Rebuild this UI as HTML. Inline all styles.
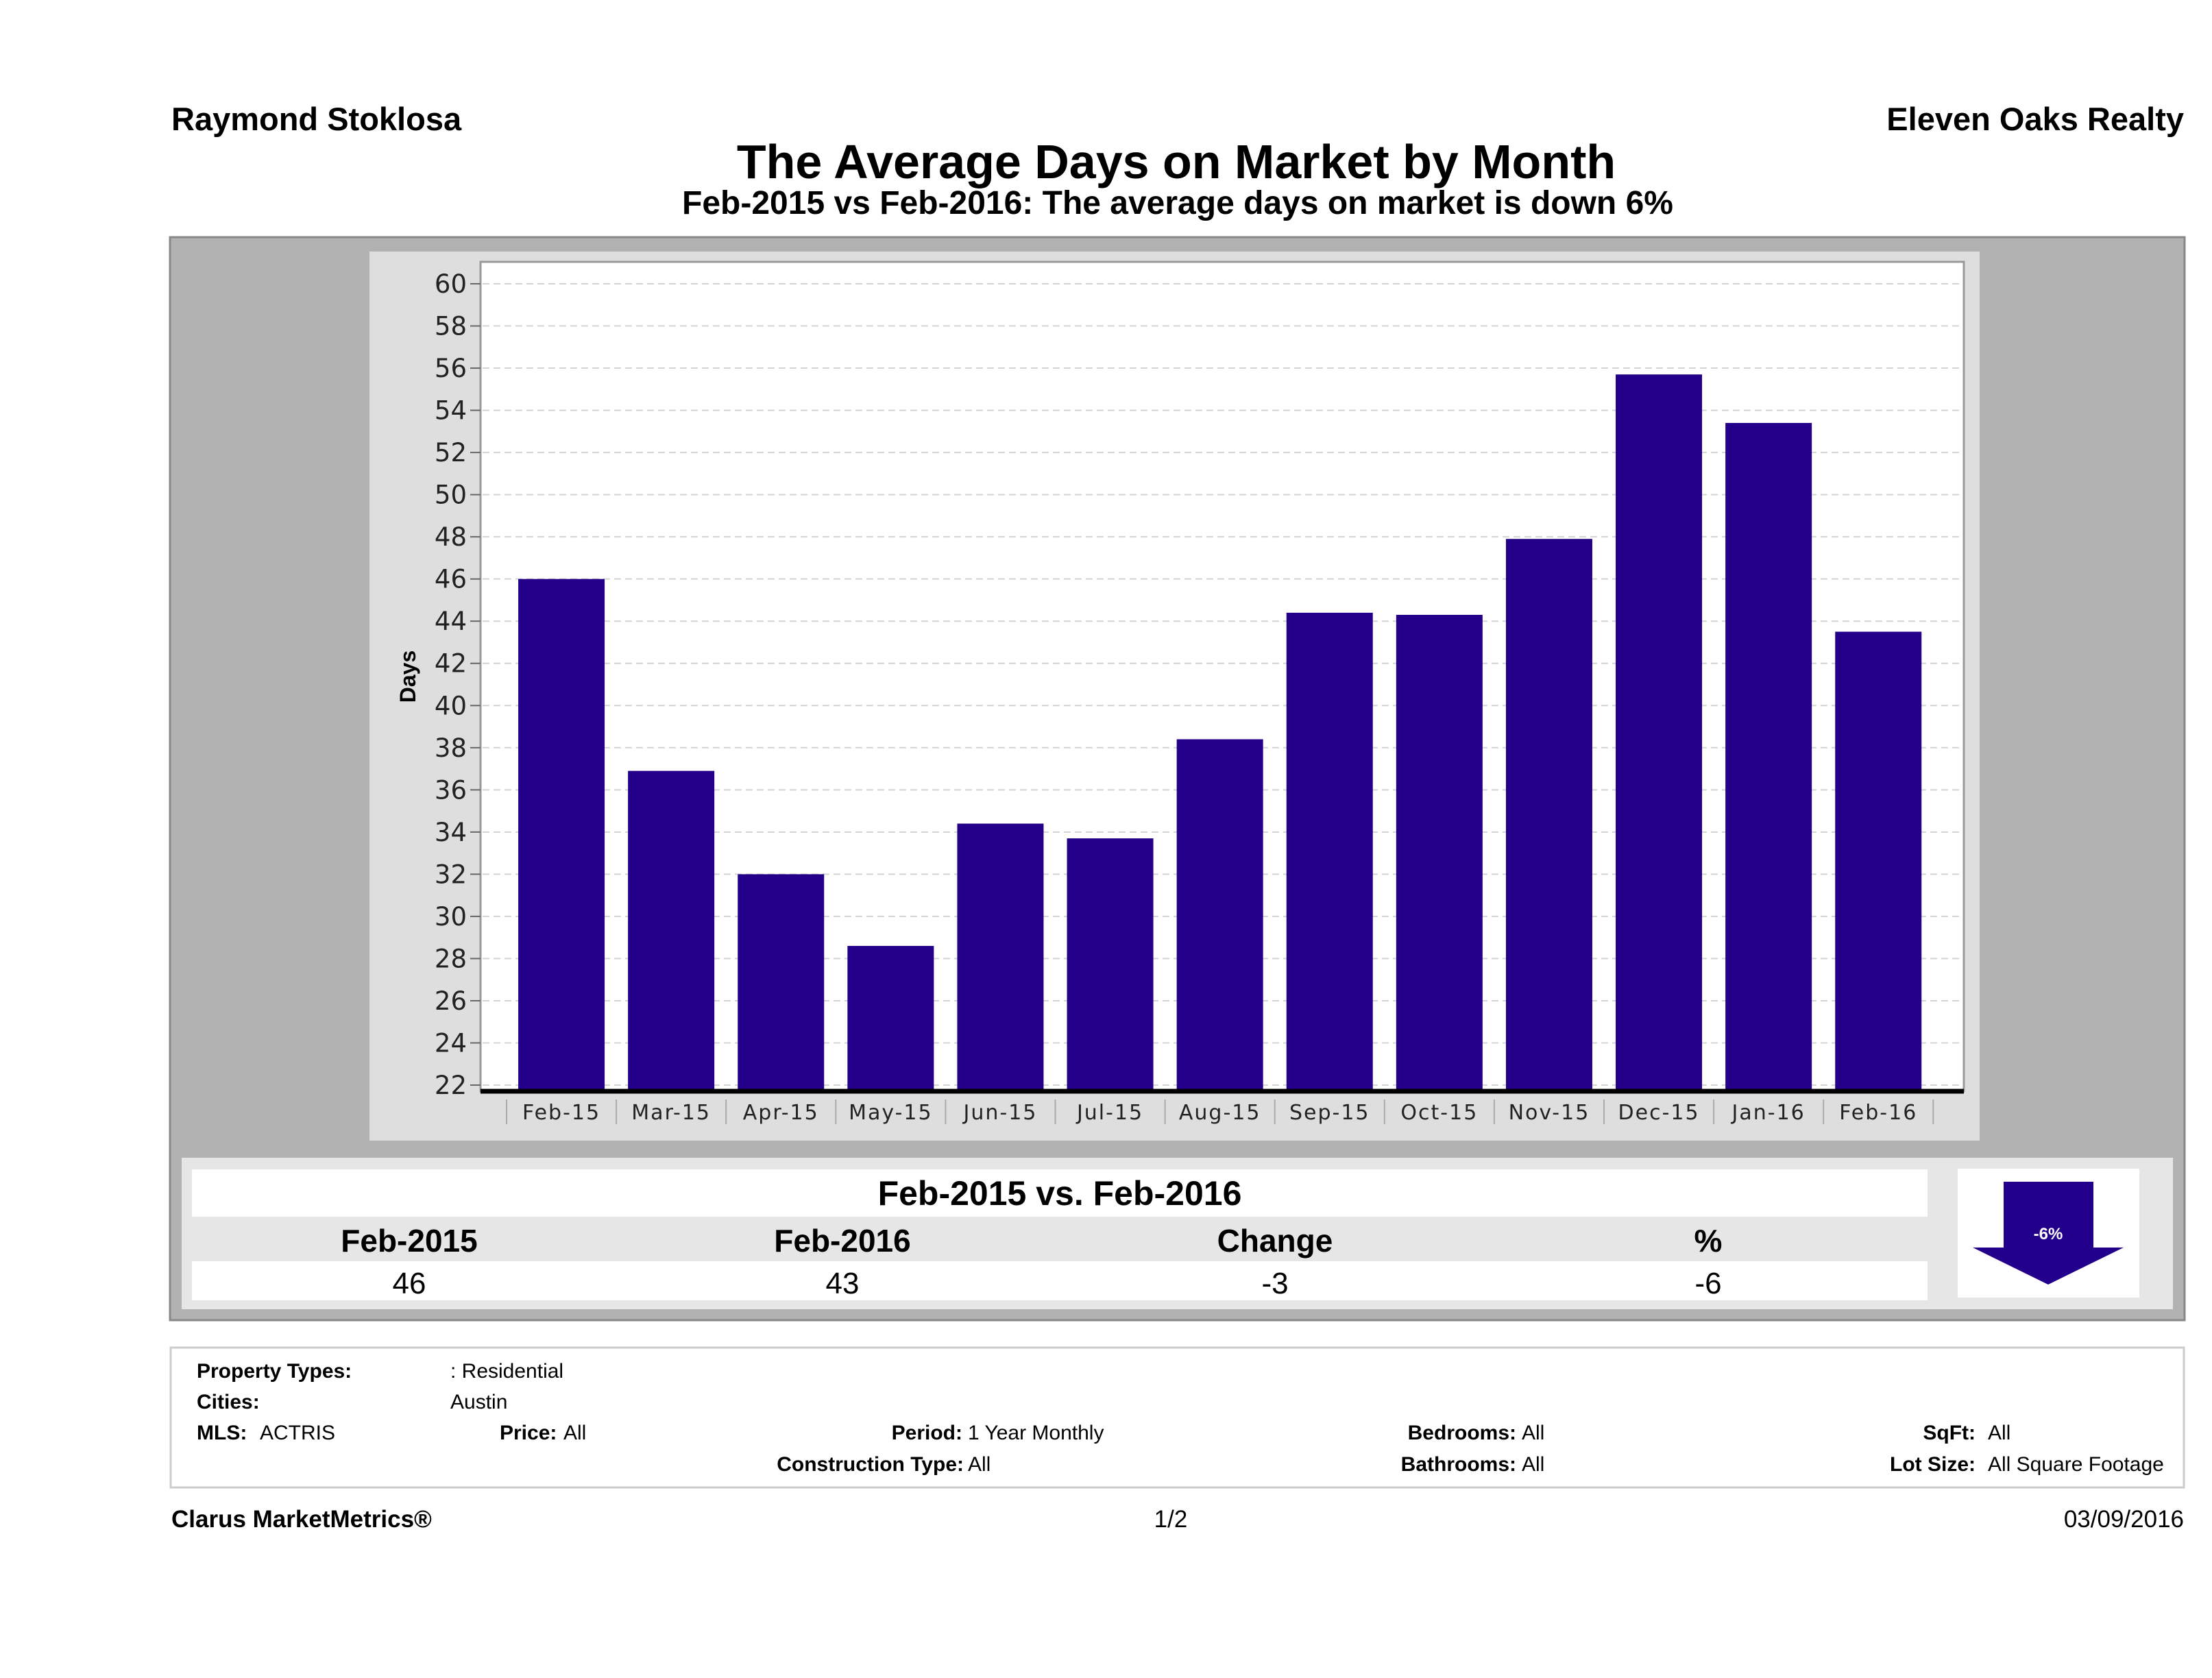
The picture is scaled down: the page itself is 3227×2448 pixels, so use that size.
<!DOCTYPE html>
<html><head><meta charset="utf-8"><style>
html,body{margin:0;padding:0;background:#fff}
svg{display:block}
text{font-family:"Liberation Sans Narrow","Liberation Sans",sans-serif;fill:#000}
.tk{font-family:"DejaVu Sans","Liberation Sans",sans-serif;font-size:37px;fill:#222}
.xl{font-family:"DejaVu Sans","Liberation Sans",sans-serif;font-size:30px;fill:#222;letter-spacing:2px}
.b{font-weight:bold}
.inf{font-size:30px}
</style></head><body>
<svg id="page" width="3227" height="2448" viewBox="0 0 3227 2448" xmlns="http://www.w3.org/2000/svg">
<text x="250" y="190" class="b" font-size="47">Raymond Stoklosa</text>
<text x="3186" y="190" class="b" font-size="47" text-anchor="end">Eleven Oaks Realty</text>
<text x="1716" y="260" class="b" font-size="70" text-anchor="middle">The Average Days on Market by Month</text>
<text x="1718" y="312" class="b" font-size="48" text-anchor="middle">Feb-2015 vs Feb-2016: The average days on market is down 6%</text>

<rect x="248" y="346" width="2939" height="1580" fill="#b2b2b2" stroke="#888" stroke-width="3"/>
<rect x="539" y="367" width="2349" height="1297" fill="#dedede"/>
<rect x="701" y="382" width="2164" height="1210" fill="#fff" stroke="#999" stroke-width="3"/>
<g id="grid"></g>
<g id="bars"></g>
<g id="axes"></g>
<text transform="translate(606,987) rotate(-90)" class="b" font-size="32" font-family="Liberation Sans" text-anchor="middle">Days</text>

<rect x="265" y="1689" width="2905" height="221" fill="#e6e6e6"/>
<rect x="280" y="1706" width="2532" height="69" fill="#fff"/>
<rect x="280" y="1840" width="2532" height="57" fill="#fff"/>
<text x="1546" y="1758" class="b" font-size="50" text-anchor="middle">Feb-2015 vs. Feb-2016</text>
<text x="597" y="1826" class="b" font-size="46" text-anchor="middle">Feb-2015</text>
<text x="1229" y="1826" class="b" font-size="46" text-anchor="middle">Feb-2016</text>
<text x="1860" y="1826" class="b" font-size="46" text-anchor="middle">Change</text>
<text x="2492" y="1826" class="b" font-size="46" text-anchor="middle">%</text>
<text x="597" y="1887" font-size="44" text-anchor="middle">46</text>
<text x="1229" y="1887" font-size="44" text-anchor="middle">43</text>
<text x="1860" y="1887" font-size="44" text-anchor="middle">-3</text>
<text x="2492" y="1887" font-size="44" text-anchor="middle">-6</text>
<rect x="2856" y="1705" width="265" height="188" fill="#fff"/>
<polygon points="2923,1724 3054,1724 3054,1820 3098,1820 2988,1874 2878,1820 2923,1820" fill="#22008c"/>
<text x="2988" y="1808" class="b" font-size="24" style="fill:#fff" text-anchor="middle">-6%</text>

<rect x="249" y="1966" width="2937" height="204" fill="#fff" stroke="#ccc" stroke-width="3"/>
<g class="inf">
<text x="287" y="2010" class="b inf">Property Types:</text>
<text x="657" y="2010" class="inf">: Residential</text>
<text x="287" y="2055" class="b inf">Cities:</text>
<text x="657" y="2055" class="inf">Austin</text>
<text x="287" y="2100" class="b inf">MLS:</text>
<text x="379" y="2100" class="inf">ACTRIS</text>
<text x="729" y="2100" class="b inf">Price:</text>
<text x="822" y="2100" class="inf">All</text>
<text x="1404" y="2100" class="b inf" text-anchor="end">Period:</text>
<text x="1412" y="2100" class="inf">1 Year Monthly</text>
<text x="1406" y="2146" class="b inf" text-anchor="end">Construction Type:</text>
<text x="1412" y="2146" class="inf">All</text>
<text x="2212" y="2100" class="b inf" text-anchor="end">Bedrooms:</text>
<text x="2220" y="2100" class="inf">All</text>
<text x="2212" y="2146" class="b inf" text-anchor="end">Bathrooms:</text>
<text x="2220" y="2146" class="inf">All</text>
<text x="2882" y="2100" class="b inf" text-anchor="end">SqFt:</text>
<text x="2900" y="2100" class="inf">All</text>
<text x="2882" y="2146" class="b inf" text-anchor="end">Lot Size:</text>
<text x="2900" y="2146" class="inf">All Square Footage</text>
</g>
<text x="250" y="2228" class="b" font-size="35">Clarus MarketMetrics®</text>
<text x="1708" y="2228" font-size="35" text-anchor="middle">1/2</text>
<text x="3186" y="2228" font-size="35" text-anchor="end">03/09/2016</text>
</svg>
<script>
const categories = ["Feb-15","Mar-15","Apr-15","May-15","Jun-15","Jul-15","Aug-15","Sep-15","Oct-15","Nov-15","Dec-15","Jan-16","Feb-16"];
const values = [46, 36.9, 32, 28.6, 34.4, 33.7, 38.4, 44.4, 44.3, 47.9, 55.7, 53.4, 43.5];
const yTicks = [22,24,26,28,30,32,34,36,38,40,42,44,46,48,50,52,54,56,58,60];

const NS = "http://www.w3.org/2000/svg";
const yMin = 22, yMax = 60, yTop = 414, yBot = 1583;
function yScale(v){ return yBot - (v - yMin) / (yMax - yMin) * (yBot - yTop); }
const xStart = 739, step = 160.1, barW = 126;
function xBand(i){ return xStart + i * step; }
function mk(tag, attrs, parent){ const e = document.createElementNS(NS, tag); for (const k in attrs) e.setAttribute(k, attrs[k]); parent.appendChild(e); return e; }

const grid = document.getElementById('grid');
const bars = document.getElementById('bars');
const axes = document.getElementById('axes');

yTicks.forEach(t => {
  const y = yScale(t);
  const g = mk('line', {x1:704, x2:2862, y1:y, y2:y, stroke:'#d4d4d4', 'stroke-width':2, 'stroke-dasharray':'10,6'}, grid);
  
  
  const tk = mk('line', {x1:686, x2:701, y1:y, y2:y, stroke:'#666', 'stroke-width':2}, axes);
  
  
  const lb = mk('text', {x:681, y:y + 13, 'text-anchor':'end', class:'tk'}, axes);
  lb.textContent = t;
  
  
});

values.forEach((v, i) => {
  const x = xBand(i) + (step - barW) / 2;
  const y = yScale(v);
  const r = mk('rect', {x:x, y:y, width:barW, height:1592 - y, fill:'#24008a'}, bars);
  
  
});

const base = mk('line', {x1:701, x2:2865, y1:1592, y2:1592, stroke:'#000', 'stroke-width':7}, axes);



for (let i = 0; i <= categories.length; i++) {
  const sx = xBand(i);
  const s = mk('line', {x1:sx, x2:sx, y1:1604, y2:1640, stroke:'#aaa', 'stroke-width':2}, axes);
  
  
}
categories.forEach((c, i) => {
  const t = mk('text', {x:xBand(i) + step / 2, y:1633, 'text-anchor':'middle', class:'xl'}, axes);
  t.textContent = c;
  
  
});
</script>
</body></html>
